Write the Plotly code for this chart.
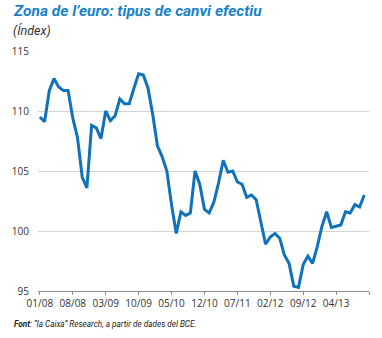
import plotly.graph_objects as go

# Monthly euro effective exchange rate index, 01/08 .. 10/13
months = list(range(70))
values = [109.5, 109.1, 111.7, 112.7, 112.0, 111.7, 111.7, 109.4, 107.8, 104.5,
          103.6, 108.8, 108.6, 107.7, 110.0, 109.2, 109.6, 111.0, 110.6, 110.6,
          111.9, 113.1, 113.0, 111.9, 109.7, 107.1, 106.2, 105.0, 102.2, 99.8,
          101.6, 101.3, 101.5, 105.0, 103.9, 101.8, 101.5, 102.4, 104.0, 105.9,
          104.9, 105.0, 104.1, 103.9, 102.8, 103.0, 102.6, 100.8, 98.9, 99.5,
          99.8, 99.4, 98.0, 97.3, 95.4, 95.3, 97.2, 97.9, 97.3, 98.7,
          100.4, 101.6, 100.3, 100.4, 100.5, 101.6, 101.5, 102.2, 102.0, 103.0]

tick_positions = [0, 7, 14, 21, 28, 35, 42, 49, 56, 63, 70]
tick_labels = ["01/08", "08/08", "03/09", "10/09", "05/10", "12/10",
               "07/11", "02/12", "09/12", "04/13", ""]
y_ticks = [95, 100, 105, 110, 115]

fig = go.Figure()
fig.add_trace(go.Scatter(x=months, y=values, mode="lines",
                         line=dict(color="#0f72ba", width=3),
                         hoverinfo="skip"))

fig.update_layout(
    width=382, height=338,
    margin=dict(l=29, r=13, t=51, b=47),
    paper_bgcolor="white", plot_bgcolor="white",
    showlegend=False,
    font=dict(family="Open Sans", color="#333333", size=10),
)
fig.update_xaxes(range=[-0.4, 70], tickvals=tick_positions, ticktext=tick_labels,
                 showgrid=False, zeroline=False,
                 showline=True, linecolor="#8c8c8c", linewidth=1,
                 ticks="outside", ticklen=3, tickcolor="#8c8c8c",
                 tickfont=dict(size=10, color="#333333", family="Open Sans"))
fig.update_yaxes(range=[95, 115], tickvals=y_ticks,
                 showgrid=True, gridcolor="#d4d4d4", gridwidth=1,
                 zeroline=False, showline=False, ticks="",
                 ticklabelstandoff=8,
                 tickfont=dict(size=10, color="#333333", family="Open Sans"))

fig.add_annotation(text="<b><i>Zona de l’euro: tipus de canvi efectiu</i></b>",
                   xref="paper", yref="paper", x=-28/340, y=1 + 40/240,
                   xanchor="left", yanchor="middle", showarrow=False,
                   font=dict(size=15.5, color="#1a82c8", family="Roboto"))
fig.add_annotation(text="<i>(Índex)</i>",
                   xref="paper", yref="paper", x=-28/340, y=1 + 21/240,
                   xanchor="left", yanchor="middle", showarrow=False,
                   font=dict(size=12.5, color="#333333", family="Roboto"))
fig.add_annotation(text="<b><i>Font</i></b><i>: “la Caixa” Research, a partir de dades del BCE.</i>",
                   xref="paper", yref="paper", x=-27/340, y=-33/240,
                   xanchor="left", yanchor="middle", showarrow=False,
                   font=dict(size=8.2, color="#222222", family="Roboto"))

fig.write_html("out.html")
